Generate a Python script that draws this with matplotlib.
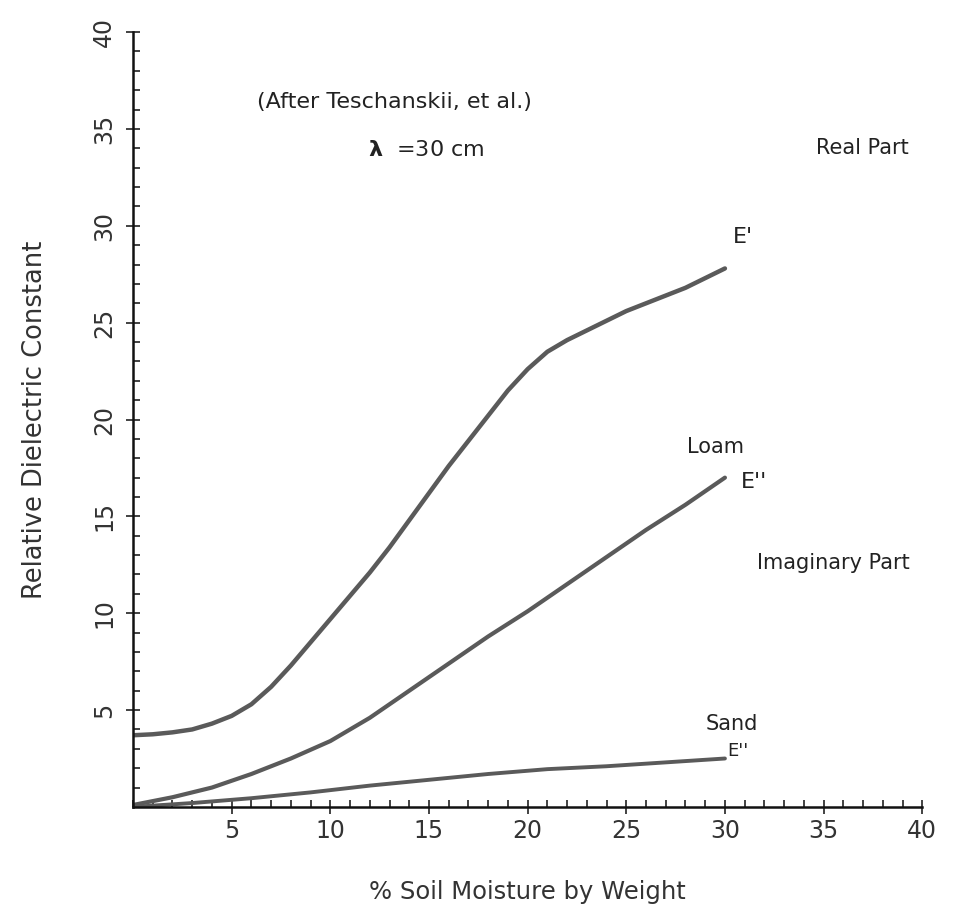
import matplotlib.pyplot as plt
import numpy as np
from matplotlib.ticker import MultipleLocator

# values
moist_real = [0, 1, 2, 3, 4, 5, 6, 7, 8, 9, 10, 11, 12, 13, 14, 15, 16, 17, 18, 19, 20, 21, 22, 23, 24, 25, 26, 27, 28, 29, 30]
eps_real = [3.7, 3.75, 3.85, 4.0, 4.3, 4.7, 5.3, 6.2, 7.3, 8.5, 9.7, 10.9, 12.1, 13.4, 14.8, 16.2, 17.6, 18.9, 20.2, 21.5, 22.6, 23.5, 24.1, 24.6, 25.1, 25.6, 26.0, 26.4, 26.8, 27.3, 27.8]

moist_loam = [0, 2, 4, 6, 8, 10, 12, 14, 16, 18, 20, 22, 24, 26, 28, 30]
eps_loam = [0.1, 0.5, 1.0, 1.7, 2.5, 3.4, 4.6, 6.0, 7.4, 8.8, 10.1, 11.5, 12.9, 14.3, 15.6, 17.0]

moist_sand = [0, 3, 6, 9, 12, 15, 18, 21, 24, 27, 30]
eps_sand = [0.0, 0.2, 0.45, 0.75, 1.1, 1.4, 1.7, 1.95, 2.1, 2.3, 2.5]

xticks = [5, 10, 15, 20, 25, 30, 35, 40]
yticks = [5, 10, 15, 20, 25, 30, 35, 40]

plt.rcParams['font.family'] = ['DejaVu Sans']

fig = plt.figure(figsize=(9.66, 9.18), dpi=100)
ax = fig.add_axes([0.1377, 0.121, 0.817, 0.844])

line_color = '#5a5a5a'
ax.plot(moist_real, eps_real, color=line_color, lw=3.2, solid_capstyle='round')
ax.plot(moist_loam, eps_loam, color=line_color, lw=3.0, solid_capstyle='round')
ax.plot(moist_sand, eps_sand, color=line_color, lw=2.8, solid_capstyle='round')

ax.set_xlim(0, 40)
ax.set_ylim(0, 40)
ax.spines['top'].set_visible(False)
ax.spines['right'].set_visible(False)
for s in ['left', 'bottom']:
    ax.spines[s].set_linewidth(1.8)
    ax.spines[s].set_color('#111111')

ax.set_xticks(xticks)
ax.set_yticks(yticks)
ax.xaxis.set_minor_locator(MultipleLocator(1))
ax.yaxis.set_minor_locator(MultipleLocator(1))
ax.tick_params(which='major', direction='inout', length=10, width=1.2, colors='#222222',
               labelsize=17, pad=4)
ax.tick_params(which='minor', direction='in', length=5, width=1.2, colors='#222222')
ax.tick_params(axis='y', which='major', pad=7)
ax.tick_params(axis='x', labelcolor='#333333')
ax.tick_params(axis='y', labelcolor='#333333')
for lab in ax.get_yticklabels():
    lab.set_rotation(90)
    lab.set_va('center')

ax.set_xlabel('% Soil Moisture by Weight', fontsize=17.5, color='#333333', labelpad=26)
ax.set_ylabel('Relative Dielectric Constant', fontsize=18.5, color='#333333', labelpad=32)

txt = dict(color='#222222', fontsize=16)
ax.text(6.3, 36.4, '(After Teschanskii, et al.)', va='center', ha='left', **txt)
ax.text(11.9, 33.9, r'$\mathbf{\lambda}$  =30 cm', va='center', ha='left', **txt)
ax.text(34.6, 34.0, 'Real Part', va='center', ha='left', color='#222222', fontsize=15)
ax.text(30.4, 29.4, "E'", va='center', ha='left', **txt)
ax.text(28.1, 18.6, 'Loam', va='center', ha='left', color='#222222', fontsize=15)
ax.text(30.8, 16.8, "E''", va='center', ha='left', **txt)
ax.text(31.6, 12.6, 'Imaginary Part', va='center', ha='left', color='#222222', fontsize=15)
ax.text(29.0, 4.3, 'Sand', va='center', ha='left', color='#222222', fontsize=15)
ax.text(30.1, 2.9, "E''", va='center', ha='left', fontsize=13, color='#222222')

fig.savefig('out.png', dpi=100, facecolor='white')
